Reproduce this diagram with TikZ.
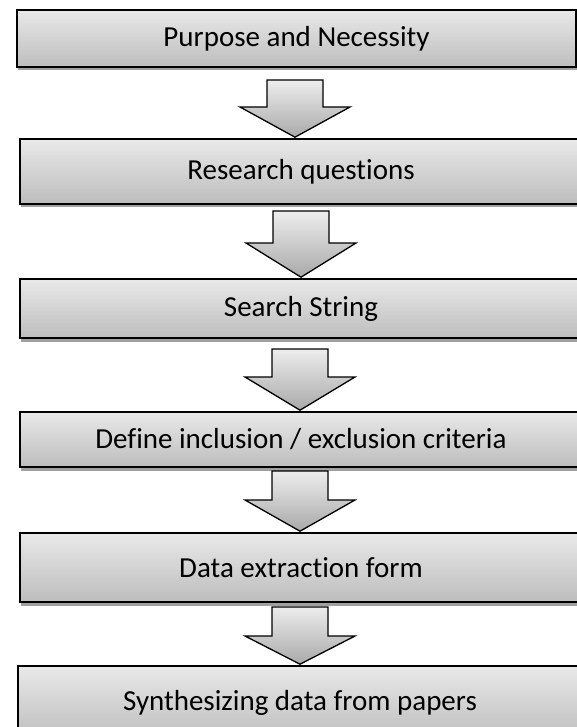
\documentclass[tikz,border=0pt]{standalone}
\usepackage{fontspec}
\setmainfont[Ligatures={NoCommon,NoRare}]{Carlito}
\usetikzlibrary{shadows,calc}
\definecolor{boxtop}{HTML}{E9E9E9}
\definecolor{boxbot}{HTML}{BDBDBD}
\definecolor{arrtop}{HTML}{EDEDED}
\definecolor{arrbot}{HTML}{A9A9A9}
\definecolor{shadowgray}{HTML}{A0A0A0}
\tikzset{
  stagebox/.style={draw=black, line width=1.6pt, top color=boxtop, bottom color=boxbot,
    drop shadow={shadow xshift=1pt, shadow yshift=-3.5pt, fill=shadowgray, opacity=1},
    inner sep=0pt, font=\fontsize{29}{34}\selectfont},
  blockarrow/.style={draw=black, line width=1.3pt, top color=arrtop, bottom color=arrbot, line join=miter}
}
% #1 source node, #2 target node, #3 x centre, #4 shaft top, #5 shoulder
\newcommand\flowarrow[5]{%
  \draw[blockarrow] let \p1=(#2.north) in
    (#3-28,#4) -- (#3+28,#4) -- (#3+28,#5) -- (#3+55,#5) -- (#3,\y1+1pt)
    -- (#3-55,#5) -- (#3-28,#5) -- cycle;}
\begin{document}
\begin{tikzpicture}[x=1pt,y=-1pt]
\useasboundingbox (0,0) rectangle (577,727);
\node[stagebox, minimum width=559pt, minimum height=57pt] (b1) at (296.5,38.5) {Purpose and Necessity};
\node[stagebox, minimum width=562pt, minimum height=65pt] (b2) at (301,171.5) {Research questions};
\node[stagebox, minimum width=562pt, minimum height=59pt] (b3) at (301,308.5) {Search String};
\node[stagebox, minimum width=562pt, minimum height=55pt] (b4) at (301,439.5) {Define inclusion / exclusion criteria};
\node[stagebox, minimum width=562pt, minimum height=69pt] (b5) at (301,567.5) {Data extraction form};
\node[stagebox, minimum width=564pt, minimum height=74pt] (b6) at (300,703) {Synthesizing data from papers};
\flowarrow{b1}{b2}{295}{80}{107}
\flowarrow{b2}{b3}{301}{211}{243}
\flowarrow{b3}{b4}{300}{349}{377}
\flowarrow{b4}{b5}{300}{471}{500}
\flowarrow{b5}{b6}{300}{607}{636}
\end{tikzpicture}
\end{document}
